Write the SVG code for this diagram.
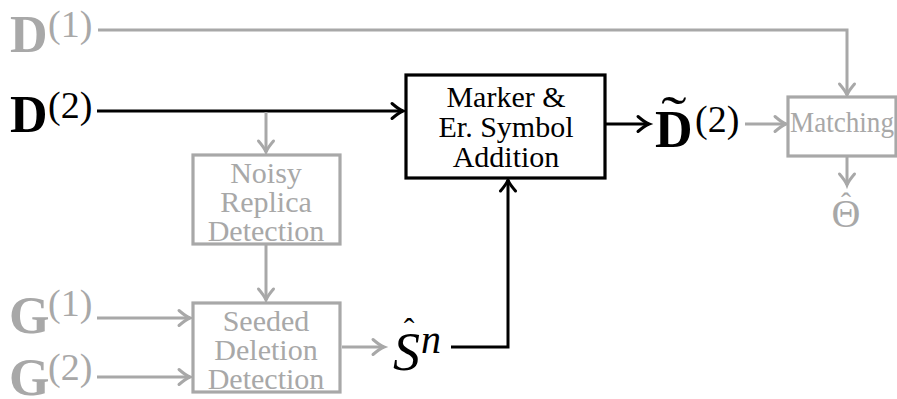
<svg xmlns="http://www.w3.org/2000/svg" width="897" height="399" viewBox="0 0 897 399">
  <style>
    .blk { stroke: #000; }
    .gry { stroke: #a8a8a8; }
    .ln { fill: none; stroke-width: 3; }
    .box { fill: #fff; stroke-width: 3.2; }
    .rm { font-family: "Liberation Serif", "DejaVu Serif", serif; }
    .lbl { font-size: 30px; text-anchor: middle; }
    .mb { font-family: "Liberation Serif", "DejaVu Serif", serif; font-weight: bold; font-size: 52px; }
    .sup { font-family: "Liberation Serif", "DejaVu Serif", serif; font-size: 38px; }
    .it { font-family: "Liberation Serif", "DejaVu Serif", serif; font-style: italic; }
    .tb { fill: #000; }
    .tg { fill: #a8a8a8; }
  </style>
  <defs>
    <marker id="ahB" markerUnits="userSpaceOnUse" markerWidth="22" markerHeight="22" viewBox="-13 -11 15 22" refX="0" refY="0" orient="auto">
      <path d="M-11,-7.5 Q-4,-1.5 0,0 Q-4,1.5 -11,7.5" fill="none" stroke="#000" stroke-width="3" stroke-linecap="round"/>
    </marker>
    <marker id="ahG" markerUnits="userSpaceOnUse" markerWidth="22" markerHeight="22" viewBox="-13 -11 15 22" refX="0" refY="0" orient="auto">
      <path d="M-11,-7.5 Q-4,-1.5 0,0 Q-4,1.5 -11,7.5" fill="none" stroke="#a8a8a8" stroke-width="3" stroke-linecap="round"/>
    </marker>
  </defs>

  <g id="connectors">
    <!-- D(1) to Matching -->
    <polyline class="ln gry" points="98,30 847,30 847,95" marker-end="url(#ahG)"/>
    <!-- D(2) to Marker box -->
    <line class="ln blk" x1="97" y1="111" x2="403" y2="111" marker-end="url(#ahB)"/>
    <!-- D(2) branch to Noisy Replica Detection -->
    <line class="ln gry" x1="266" y1="112" x2="266" y2="152" marker-end="url(#ahG)"/>
    <!-- Noisy Replica to Seeded Deletion -->
    <line class="ln gry" x1="266" y1="245" x2="266" y2="300" marker-end="url(#ahG)"/>
    <!-- G inputs -->
    <line class="ln gry" x1="97" y1="318" x2="190" y2="318" marker-end="url(#ahG)"/>
    <line class="ln gry" x1="97" y1="377" x2="190" y2="377" marker-end="url(#ahG)"/>
    <!-- Seeded Deletion to S hat -->
    <line class="ln gry" x1="342" y1="347" x2="384" y2="347" marker-end="url(#ahG)"/>
    <!-- S hat to Marker box -->
    <polyline class="ln blk" points="451,347 508,347 508,180" marker-end="url(#ahB)"/>
    <!-- Marker box to D tilde -->
    <line class="ln blk" x1="606" y1="124" x2="649" y2="124" marker-end="url(#ahB)"/>
    <!-- D tilde to Matching -->
    <line class="ln gry" x1="745" y1="124" x2="786" y2="124" marker-end="url(#ahG)"/>
    <!-- Matching to Theta hat -->
    <line class="ln gry" x1="847" y1="157" x2="847" y2="185" marker-end="url(#ahG)"/>
  </g>

  <g id="D1">
    <text class="mb tg" x="10" y="52">D</text>
    <text class="sup tg" x="48" y="37">(1)</text>
  </g>

  <g id="D2">
    <text class="mb tb" x="10" y="132">D</text>
    <text class="sup tb" x="48" y="118">(2)</text>
  </g>

  <g id="G1">
    <text class="mb tg" x="9" y="333">G</text>
    <text class="sup tg" x="48" y="316">(1)</text>
  </g>

  <g id="G2">
    <text class="mb tg" x="9" y="395">G</text>
    <text class="sup tg" x="48" y="380">(2)</text>
  </g>

  <g id="marker-addition">
    <rect class="box blk" x="406" y="75" width="199" height="103" stroke-width="3.5"/>
    <text class="lbl rm tb" x="506" y="107">Marker &amp;</text>
    <text class="lbl rm tb" x="506" y="137">Er. Symbol</text>
    <text class="lbl rm tb" x="506" y="167">Addition</text>
  </g>

  <g id="noisy-replica">
    <rect class="box gry" x="193" y="155" width="147" height="89"/>
    <text class="lbl rm tg" x="266" y="183">Noisy</text>
    <text class="lbl rm tg" x="266" y="212">Replica</text>
    <text class="lbl rm tg" x="266" y="241">Detection</text>
  </g>

  <g id="seeded-deletion">
    <rect class="box gry" x="193" y="303" width="147" height="89"/>
    <text class="lbl rm tg" x="266" y="331">Seeded</text>
    <text class="lbl rm tg" x="266" y="360">Deletion</text>
    <text class="lbl rm tg" x="266" y="389">Detection</text>
  </g>

  <g id="S-hat">
    <text class="it tb" x="393" y="370" font-size="54">S</text>
    <text class="rm tb" x="409" y="340" font-size="32" text-anchor="middle">ˆ</text>
    <text class="it tb" x="421" y="353" font-size="40">n</text>
  </g>

  <g id="D-tilde">
    <text class="mb tb" x="655" y="147">D</text>
    <text class="rm tb" transform="translate(674,133) scale(1.9,1.3)" font-size="40" text-anchor="middle">˜</text>
    <text class="sup tb" x="695" y="132">(2)</text>
  </g>

  <g id="matching">
    <rect class="box gry" x="788" y="97" width="108" height="59"/>
    <text class="lbl rm tg" x="842" y="132" font-size="27" textLength="104" lengthAdjust="spacingAndGlyphs">Matching</text>
  </g>

  <g id="theta-hat">
    <text class="rm tg" x="846" y="227" font-size="40" text-anchor="middle">Θ</text>
    <text class="rm tg" x="846" y="213" font-size="30" text-anchor="middle">ˆ</text>
  </g>
</svg>
